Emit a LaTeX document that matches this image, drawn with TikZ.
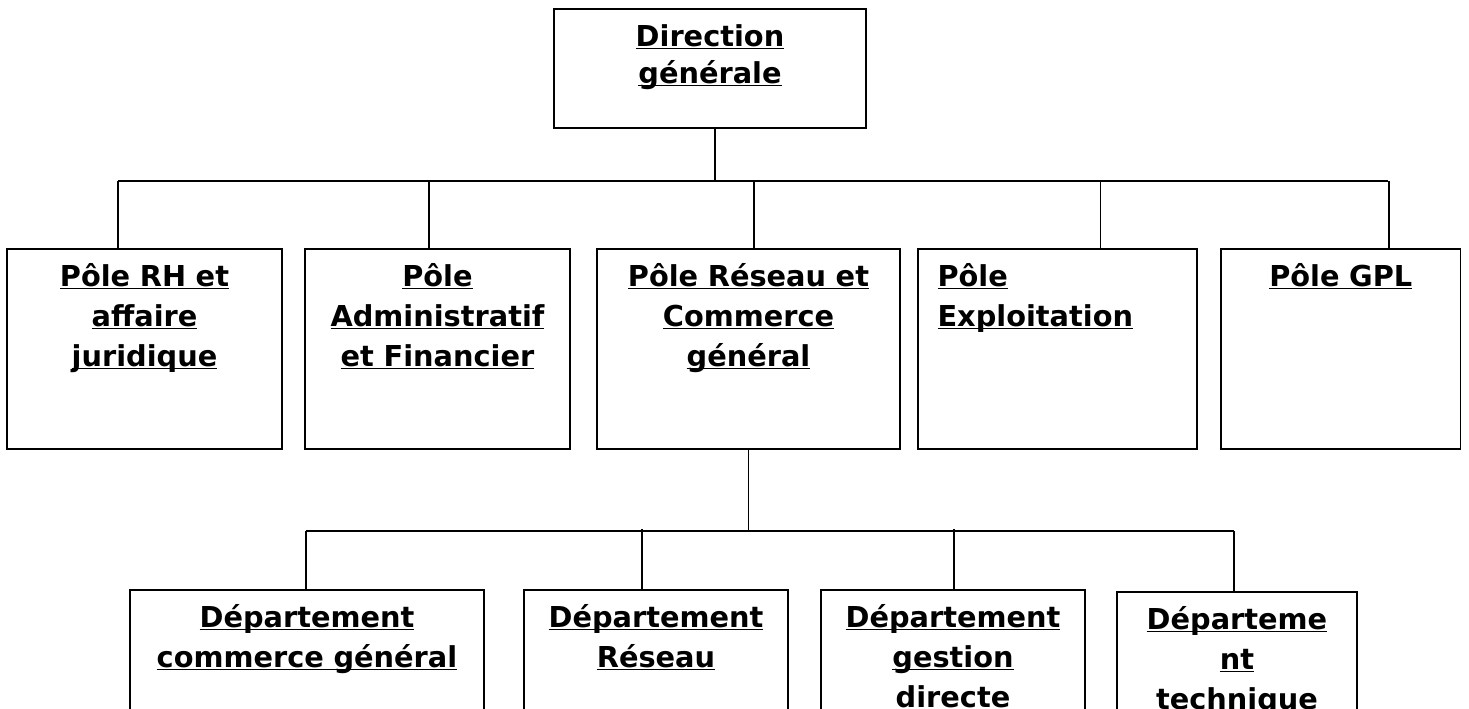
\documentclass[tikz,border=0pt]{standalone}
\usepackage{fontspec}
\setmainfont{DejaVu Sans}
\usepackage{tikz}
\usetikzlibrary{positioning}
\newcommand{\souligne}[1]{\leavevmode\setbox0\hbox{#1}\rlap{\rule[-1.6pt]{\wd0}{0.75pt}}\box0}

\begin{document}
\begin{tikzpicture}[x=0.5pt, y=-0.5pt, line width=0.75pt,
    unit/.style={rectangle, draw, inner sep=0pt, outer sep=0pt, align=center, font=\fontsize{14.4}{20}\selectfont\bfseries, text height=18.5pt},
    pole/.style={unit, text width=#1, text depth=81.5pt},
    dept/.style={unit, text width=#1, text depth=81.5pt}]
    \useasboundingbox (0,0) rectangle (1469,708);

    \node[unit, anchor=north west, text width=156pt, text depth=41pt, font=\fontsize{14.4}{18.5}\selectfont\bfseries] (direction) at (554,9) {\souligne{Direction}\\\souligne{générale}};

    \node[pole=137.5pt, anchor=north west] (rh) at (7,249) {\souligne{Pôle RH et}\\\souligne{affaire}\\\souligne{juridique}};
    \node[pole=132.5pt] (admin) [right=11.5pt of rh] {\souligne{Pôle}\\\souligne{Administratif}\\\souligne{et Financier}};
    \node[pole=151.5pt] (reseau) [right=13.5pt of admin] {\souligne{Pôle Réseau et}\\\souligne{Commerce}\\\souligne{général}};
    \node[pole=120pt, align=left, inner xsep=9.75pt] (exploitation) [right=9pt of reseau] {\souligne{Pôle}\\\souligne{Exploitation}};
    \node[pole=119.75pt] (gpl) [right=12pt of exploitation] {\souligne{Pôle GPL}};

    \node[dept=177pt, anchor=north west] (commerce) at (130,590) {\souligne{Département}\\\souligne{commerce général}};
    \node[dept=132pt] (dreseau) [right=20pt of commerce] {\souligne{Département}\\\souligne{Réseau}};
    \node[dept=132pt] (gestion) [right=16.5pt of dreseau] {\souligne{Département}\\\souligne{gestion}\\\souligne{directe}};
    \node[dept=120pt] (technique) [right=16pt of gestion, yshift=-1pt] {\souligne{Départeme}\\\souligne{nt}\\\souligne{technique}};

    % liaisons direction -> poles
    \coordinate (bl1) at (118,181);
    \coordinate (br1) at (1388,181);
    \draw (direction.south) ++(5,0) -- ++(0,53);
    \draw (bl1) -- (br1);
    \draw (rh.north) ++(-26.5,0) -- ++(0,-68);
    \draw (admin.north) ++(-8.5,0) -- ++(0,-68);
    \draw (reseau.north) ++(5.5,0) -- ++(0,-68);
    \draw (exploitation.north) ++(43,0) -- ++(0,-68);
    \draw (gpl.north) ++(48,0) -- ++(0,-68);

    % liaisons pole reseau -> departements
    \coordinate (bl2) at (306,531);
    \coordinate (br2) at (1234,531);
    \draw (reseau.south) -- ++(0,82);
    \draw (bl2) -- (br2);
    \draw (commerce.north) ++(-1,0) -- ++(0,-59);
    \draw (dreseau.north) ++(-14,0) -- ++(0,-61);
    \draw (gestion.north) ++(1,0) -- ++(0,-61);
    \draw (technique.north) ++(-3,0) -- ++(0,-61);
\end{tikzpicture}
\end{document}
